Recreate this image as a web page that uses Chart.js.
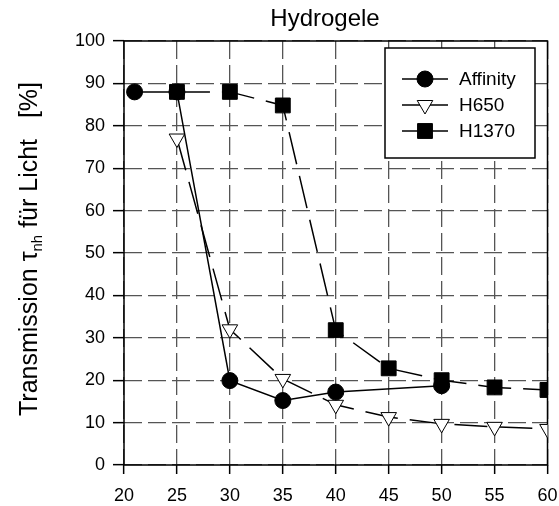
<!DOCTYPE html>
<html>
<head>
<meta charset="utf-8">
<title>Hydrogele</title>
<script src="https://cdn.jsdelivr.net/npm/chart.js@4/dist/chart.umd.min.js"></script>
<style>
  body { margin: 0; background: #fff; }
  canvas { display: block; }
</style>
</head>
<body>
<canvas id="my-chart" width="559" height="506"></canvas>
<script>
'use strict';

// ******* DATA *********
let chartTitle = 'Hydrogele';
let seriesNames = ['Affinity', 'H650', 'H1370'];

let affinityX = [21, 25, 30, 35, 40, 50];
let affinityY = [88, 88, 19.9, 15.2, 17.2, 18.7];

let h650X = [25, 30, 35, 40, 45, 50, 55, 60];
let h650Y = [77, 32, 20.3, 14.2, 11.3, 9.7, 9, 8.5];

let h1370X = [25, 30, 35, 40, 45, 50, 55, 60];
let h1370Y = [88, 88, 84.8, 31.8, 22.8, 20, 18.3, 17.7];

let xTicks = [20, 25, 30, 35, 40, 45, 50, 55, 60];
let yTicks = [0, 10, 20, 30, 40, 50, 60, 70, 80, 90, 100];

// y axis title pieces (main, subscript, rest)
let yTitleParts = ['Transmission \u03c4', 'nh', ' f\u00fcr Licht   [%]'];

const FONT = '"Liberation Sans", Arial, sans-serif';

// ****** HELPERS ******
function toPoints(xs, ys) {
  let pts = [];
  for (let i = 0; i < xs.length; i++) {
    pts.push({ x: xs[i], y: ys[i] });
  }
  return pts;
}

// frame round the plot area (solid, under the marks)
const framePlugin = {
  id: 'frame',
  beforeDatasetsDraw(chart) {
    let ctx = chart.ctx;
    let a = chart.chartArea;
    ctx.save();
    ctx.setLineDash([]);
    ctx.strokeStyle = '#000';
    ctx.lineWidth = 1.5;
    ctx.strokeRect(a.left, a.top, a.right - a.left, a.bottom - a.top);
    ctx.restore();
  }
};

// title + rotated y title with subscript
const textPlugin = {
  id: 'texts',
  afterDraw(chart) {
    let ctx = chart.ctx;
    ctx.save();
    ctx.fillStyle = '#000';
    ctx.font = '24px ' + FONT;
    ctx.textAlign = 'center';
    ctx.textBaseline = 'alphabetic';
    ctx.fillText(chartTitle, 325, 26);
    ctx.restore();

    let big = '25px ' + FONT;
    let small = '15px ' + FONT;
    let parts = [
      { t: yTitleParts[0], f: big, dy: 0 },
      { t: yTitleParts[1], f: small, dy: 5 },
      { t: yTitleParts[2], f: big, dy: 0 }
    ];
    let total = 0;
    parts.forEach(p => { ctx.font = p.f; p.w = ctx.measureText(p.t).width; total += p.w; });
    ctx.save();
    ctx.translate(37, 249);
    ctx.rotate(-Math.PI / 2);
    ctx.fillStyle = '#000';
    ctx.textBaseline = 'alphabetic';
    ctx.textAlign = 'left';
    let x = -total / 2;
    parts.forEach(p => {
      ctx.font = p.f;
      ctx.fillText(p.t, x, p.dy);
      x += p.w;
    });
    ctx.restore();
  }
};

// legend box inside the plot, line + marker per series
const legendPlugin = {
  id: 'boxLegend',
  afterDraw(chart) {
    let ctx = chart.ctx;
    let box = { left: 385, top: 48, width: 150, height: 110 };
    ctx.save();
    ctx.setLineDash([]);
    ctx.fillStyle = '#fff';
    ctx.fillRect(box.left, box.top, box.width, box.height);
    ctx.strokeStyle = '#000';
    ctx.lineWidth = 1.5;
    ctx.strokeRect(box.left, box.top, box.width, box.height);

    chart.data.datasets.forEach((ds, i) => {
      let y = 79 + i * 26;
      ctx.strokeStyle = '#000';
      ctx.lineWidth = 1.5;
      ctx.beginPath();
      ctx.moveTo(402, y);
      ctx.lineTo(448, y);
      ctx.stroke();
      ctx.fillStyle = ds.pointBackgroundColor;
      ctx.strokeStyle = '#000';
      ctx.lineWidth = ds.pointBorderWidth;
      Chart.helpers.drawPoint(ctx, {
        pointStyle: ds.pointStyle,
        radius: ds.pointRadius,
        rotation: ds.pointRotation || 0,
        borderWidth: ds.pointBorderWidth
      }, 425, y);
      ctx.fillStyle = '#000';
      ctx.font = '19px ' + FONT;
      ctx.textBaseline = 'middle';
      ctx.textAlign = 'left';
      ctx.fillText(ds.label, 459, y + 1);
    });
    ctx.restore();
  }
};

// ****** CHART ******
let ctx = document.getElementById('my-chart');

let chartObj = {
  type: 'line',
  data: {
    datasets: [
      {
        label: seriesNames[0],
        data: toPoints(affinityX, affinityY),
        borderColor: '#000',
        borderWidth: 1.5,
        pointStyle: 'circle',
        pointRadius: 8,
        pointBackgroundColor: '#000',
        pointBorderColor: '#000',
        pointBorderWidth: 1,
        order: 1
      },
      {
        label: seriesNames[1],
        data: toPoints(h650X, h650Y),
        borderColor: '#000',
        borderWidth: 1.5,
        borderDash: [33, 12],
        pointStyle: 'triangle',
        pointRotation: 180,
        pointRadius: 9,
        pointBackgroundColor: '#fff',
        pointBorderColor: '#000',
        pointBorderWidth: 1,
        order: 3
      },
      {
        label: seriesNames[2],
        data: toPoints(h1370X, h1370Y),
        borderColor: '#000',
        borderWidth: 1.5,
        borderDash: [33, 12],
        pointStyle: 'rect',
        pointRadius: 10.5,
        pointBackgroundColor: '#000',
        pointBorderColor: '#000',
        pointBorderWidth: 1,
        order: 2
      }
    ]
  },
  options: {
    responsive: false,
    animation: false,
    devicePixelRatio: 1,
    layout: { padding: { top: 41, right: 0, bottom: 0, left: 0 } },
    plugins: {
      legend: { display: false },
      tooltip: { enabled: false },
      title: { display: false }
    },
    scales: {
      x: {
        type: 'linear',
        min: xTicks[0],
        max: xTicks[xTicks.length - 1],
        afterBuildTicks(scale) { scale.ticks = xTicks.map(v => ({ value: v })); },
        afterFit(scale) {
          scale.height = 41;
          scale.paddingLeft = 0;
          scale.paddingRight = 11;
        },
        ticks: { color: '#000', font: { family: FONT, size: 18 }, padding: 11, maxRotation: 0 },
        grid: { color: '#555', lineWidth: 1.3, tickLength: 9, tickColor: '#000', tickWidth: 1.5, tickBorderDash: [] },
        border: { display: false, dash: [18, 6] }
      },
      y: {
        type: 'linear',
        min: yTicks[0],
        max: yTicks[yTicks.length - 1],
        afterBuildTicks(scale) { scale.ticks = yTicks.map(v => ({ value: v })); },
        afterFit(scale) { scale.width = 124; },
        ticks: { color: '#000', font: { family: FONT, size: 18 }, padding: 8 },
        grid: { color: '#555', lineWidth: 1.3, tickLength: 11, tickColor: '#000', tickWidth: 1.5, tickBorderDash: [] },
        border: { display: false, dash: [18, 6] }
      }
    }
  },
  plugins: [framePlugin, textPlugin, legendPlugin]
};

new Chart(ctx, chartObj); //eslint-disable-line
</script>
</body>
</html>
